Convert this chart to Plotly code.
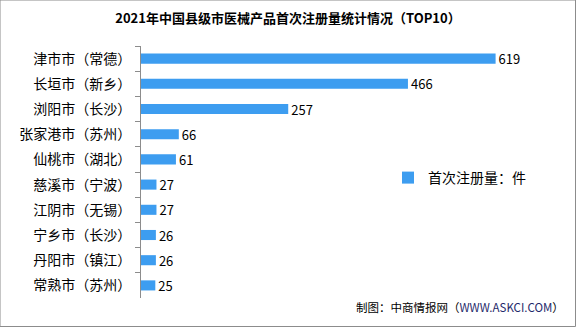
import plotly.graph_objects as go

categories = ["津市市（常德）", "长垣市（新乡）", "浏阳市（长沙）", "张家港市（苏州）", "仙桃市（湖北）",
              "慈溪市（宁波）", "江阴市（无锡）", "宁乡市（长沙）", "丹阳市（镇江）", "常熟市（苏州）"]
values = [619, 466, 257, 66, 61, 27, 27, 26, 26, 25]
series_name = "首次注册量：件"
title = "2021年中国县级市医械产品首次注册量统计情况（TOP10）"

W, H = 576, 327
L, R, T, B = 141, 34, 46, 29
pw = W - L - R
ph = H - T - B

fig = go.Figure()
fig.add_trace(go.Bar(
    y=categories, x=values, orientation="h", name=series_name,
    marker=dict(color="#3d9df0", line=dict(width=0)),
    text=[str(v) for v in values], textposition="outside", constraintext="none",
    textfont=dict(size=13, color="#000000", family="Noto Sans CJK SC"),
    cliponaxis=False,
))

fig.update_layout(
    width=W, height=H,
    margin=dict(l=L, r=R, t=T, b=B),
    paper_bgcolor="white", plot_bgcolor="white",
    bargap=0.6,
    font=dict(family="Noto Sans CJK SC", size=14, color="#000000"),
    title=dict(text="<b>" + title + "</b>", x=0.5, xanchor="center", y=1 - 18 / H, yanchor="middle",
               font=dict(size=13, color="#000000", family="Noto Sans CJK SC")),
    xaxis=dict(range=[0, 700], visible=False, fixedrange=True),
    yaxis=dict(autorange="reversed", showline=True, linecolor="#8c8c8c", linewidth=1,
               ticks="outside", ticklen=5, tickcolor="#8c8c8c", tickson="boundaries",
               tickfont=dict(size=14, color="#000000"), showgrid=False, ticklabelstandoff=6),
    showlegend=True,
    legend=dict(x=(388 - L) / pw, y=(H - B - 178) / ph, xanchor="left", yanchor="middle",
                bgcolor="rgba(0,0,0,0)", font=dict(size=14, color="#000000"),
                itemwidth=30),
    shapes=[dict(type="rect", xref="paper", yref="paper",
                 x0=-L / pw, x1=1 + (R - 0.5) / pw, y0=-(B - 0.5) / ph, y1=1 + T / ph,
                 line=dict(color="#8c8c8c", width=1), fillcolor="rgba(0,0,0,0)")],
    annotations=[dict(text="制图：中商情报网（<span style='color:#1f2a6b'>WWW.ASKCI.COM</span>）",
                      xref="paper", yref="paper", x=1 + (R - 10) / pw, y=-(307 - (H - B)) / ph,
                      xanchor="right", yanchor="middle", showarrow=False,
                      font=dict(size=11.5, color="#000000"))],
)

fig.write_html("out.html")
